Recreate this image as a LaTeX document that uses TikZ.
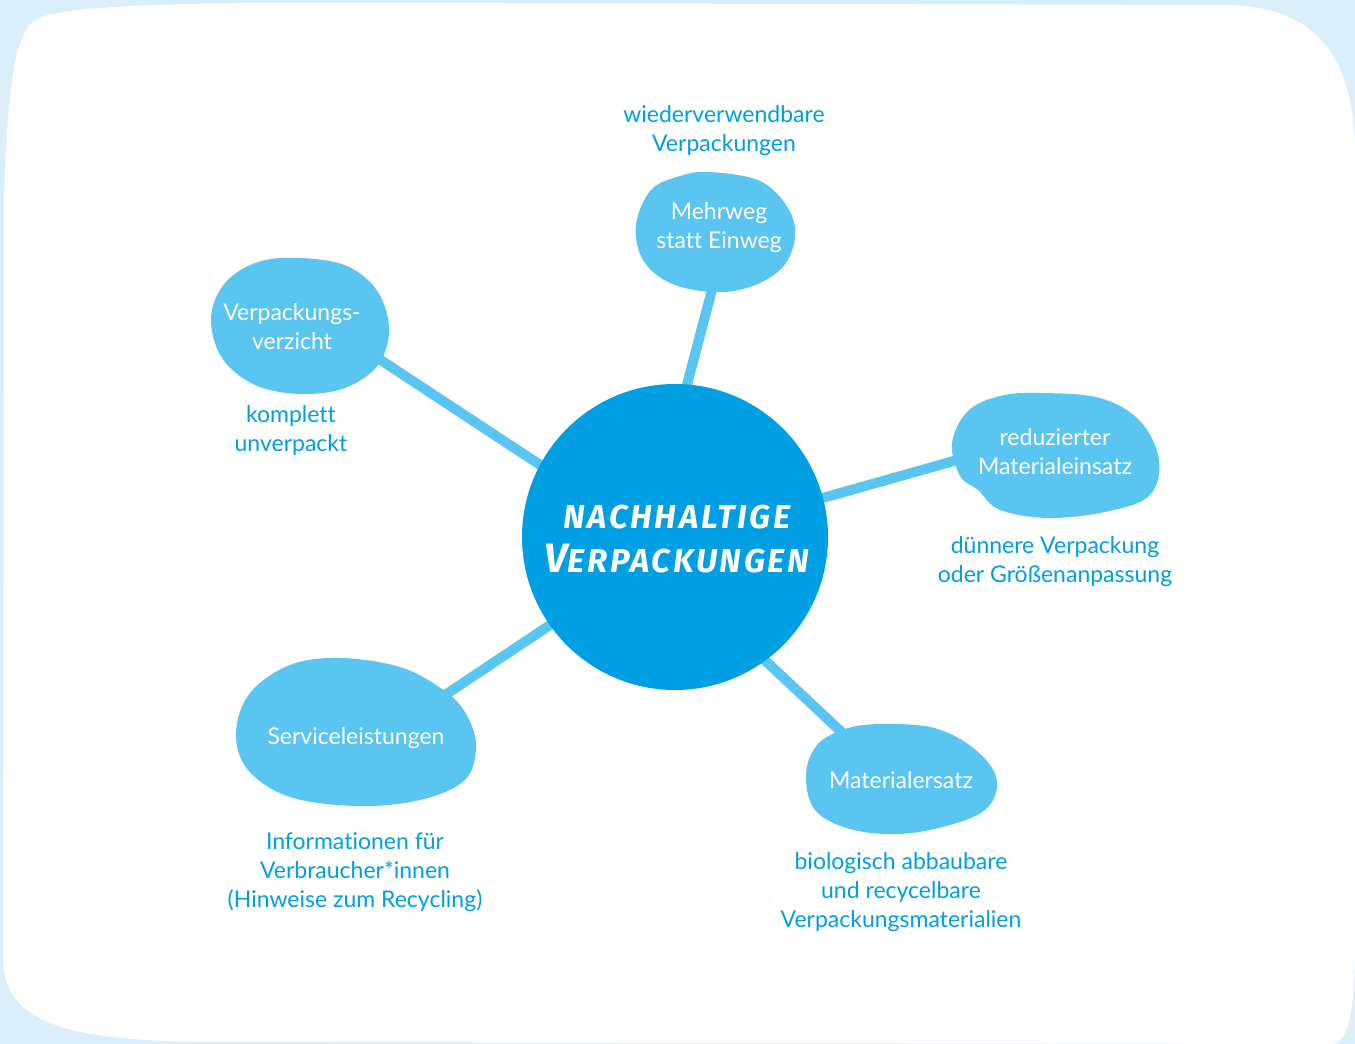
\documentclass[tikz,border=0pt]{standalone}
\usepackage{fontspec}
\setmainfont{Lato}[Ligatures={NoCommon}]
\newfontfamily\titlefont{Fira Sans}[LetterSpace=8]
\pgfdeclarelayer{bglayer}
\pgfdeclarelayer{bloblayer}
\pgfsetlayers{bglayer,bloblayer,main}
\definecolor{mdark}{HTML}{009FE3}
\definecolor{mlight}{HTML}{5BC5F2}
\definecolor{mpale}{HTML}{DAEFFA}
\begin{document}
\begin{tikzpicture}[x=1pt,y=-1pt,
  intext/.style={inner sep=0pt, align=center, text=white, font=\fontsize{23}{29}\selectfont},
  outtext/.style={inner sep=0pt, align=center, text=mdark, font=\fontsize{23}{29}\selectfont},
  blob/.style={fill=mlight, draw=none},
  connector/.style={draw=mlight, line width=10pt}]
\useasboundingbox (0,0) rectangle (1355,1044);
\begin{pgfonlayer}{bglayer}
\fill[mpale] (0,0) rectangle (1355,1044);
\fill[white] (35,20) .. controls (60,4) and (200,2) .. (400,3)
  -- (1230,5) .. controls (1320,8) and (1350,60) .. (1355,140)
  -- (1355,930) .. controls (1355,1000) and (1352,1044) .. (1330,1044)
  -- (200,1042) .. controls (60,1040) and (5,1020) .. (3,960)
  -- (4,200) .. controls (8,80) and (15,35) .. (35,20) -- cycle;
\end{pgfonlayer}

% center
\node[circle, fill=mdark, minimum size=306pt, inner sep=0pt] (c) at (675,537) {};
\node[inner sep=0pt, align=center, text=white, font=\titlefont\bfseries\itshape\fontsize{33}{44}\selectfont] (title) at (677,539)
  {NACHHALTIGE\\{\fontsize{41}{44}\selectfont V}ERPACKUNGEN};

% blob texts
\node[intext] (mehr) at (719,228) {Mehrweg\\statt Einweg};
\node[intext] (verz) at (292,327) {Verpackungs-\\verzicht};
\node[intext] (redu) at (1055,452) {reduzierter\\Materialeinsatz};
\node[intext] (serv) at (356,738) {Serviceleistungen};
\node[intext] (mate) at (901,780) {Materialersatz};

% outer texts
\node[outtext] (mehrd) at (724,131) {wiederverwendbare\\Verpackungen};
\node[outtext] (verzd) at (291,430) {komplett\\unverpackt};
\node[outtext] (redud) at (1055,562) {dünnere Verpackung\\oder Größenanpassung};
\node[outtext] (servd) at (355,872) {Informationen für\\Verbraucher*innen\\(Hinweise zum Recycling)};
\node[outtext] (mated) at (901,892) {biologisch abbaubare\\und recycelbare\\Verpackungsmaterialien};

% connector ends
\coordinate (mehrA) at (683,400); \coordinate (mehrB) at (714,282);
\coordinate (verzA) at (560,478); \coordinate (verzB) at (370,353);
\coordinate (reduA) at (805,503); \coordinate (reduB) at (975,455);
\coordinate (servA) at (565,615); \coordinate (servB) at (430,705);
\coordinate (mateA) at (755,651); \coordinate (mateB) at (850,740);

\begin{pgfonlayer}{bglayer}
\draw[connector] (mehrA) -- (mehrB);
\draw[connector] (verzA) -- (verzB);
\draw[connector] (reduA) -- (reduB);
\draw[connector] (servA) -- (servB);
\draw[connector] (mateA) -- (mateB);
\end{pgfonlayer}

\begin{pgfonlayer}{bloblayer}
\fill[blob] plot[smooth cycle, tension=0.6] coordinates {(710,172) (760,181) (788,208) (795,238) (782,268) (750,287) (712,292) (670,283) (643,260) (636,225) (651,190) (680,176)};
\fill[blob] plot[smooth cycle, tension=0.6] coordinates {(300,258) (347,266) (378,292) (389,330) (378,365) (345,388) (300,394) (255,385) (222,358) (211,318) (225,283) (258,262)};
\fill[blob] plot[smooth cycle, tension=0.6] coordinates {(1040,393) (1100,398) (1140,421) (1159,460) (1150,495) (1110,511) (1050,518) (1000,510) (978,490) (960,476) (952,443) (968,411) (1000,396)};
\fill[blob] plot[smooth cycle, tension=0.6] coordinates {(340,658) (400,667) (442,689) (465,712) (476,745) (465,780) (420,800) (358,806) (290,797) (248,770) (236,733) (250,693) (290,665)};
\fill[blob] plot[smooth cycle, tension=0.6] coordinates {(880,724) (930,727) (965,742) (990,765) (997,787) (985,810) (950,825) (900,834) (850,829) (815,810) (806,775) (817,745) (845,729)};
\end{pgfonlayer}
\end{tikzpicture}
\end{document}
